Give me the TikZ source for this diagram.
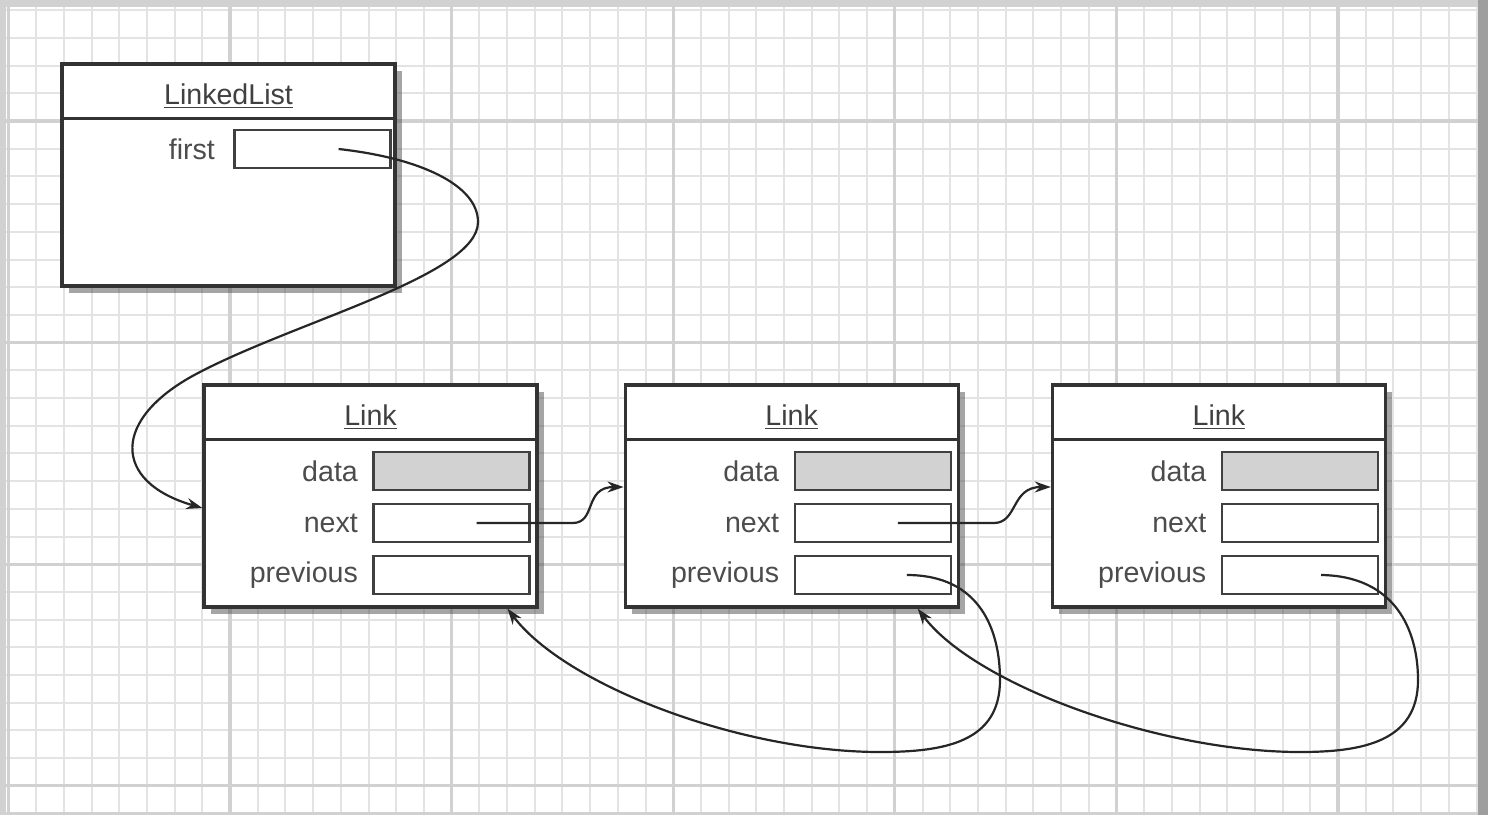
\documentclass[tikz,border=0pt]{standalone}
\usepackage{fontspec}
\setmainfont{Liberation Sans}
\usetikzlibrary{arrows.meta,positioning,shadows,calc}

\begin{document}
\begin{tikzpicture}[
    x=0.5pt, y=-0.5pt,
    record/.style={draw=black!80, line width=1.6pt, fill=white, minimum width=166.5pt, minimum height=111pt, inner sep=0pt, drop shadow={shadow xshift=3.5pt, shadow yshift=-3.5pt, opacity=0.5, fill=black!70}},
    field/.style={draw=black!75, line width=1.3pt, fill=white, minimum width=78pt, minimum height=19pt, inner sep=0pt},
    datafield/.style={field, fill=gray!35},
    title/.style={font=\fontsize{14.3}{17}\selectfont, text=black!75},
    fieldname/.style={font=\fontsize{14.3}{17}\selectfont, text=black!70, anchor=east, inner sep=0pt},
    sepline/.style={draw=black!80, line width=1.4pt},
    pointer/.style={-{Stealth[length=8pt, width=5.5pt]}, line width=1.1pt, draw=black!85},
    gridfine/.style={draw=black!11, line width=1pt},
    gridmajor/.style={draw=black!18, line width=1.6pt}
]
    \useasboundingbox (0,0) rectangle (1488,815);

    % Paper and grid
    \fill[black!18] (0,0) rectangle (1488,815);
    \fill[black!38] (1478,0) rectangle (1488,815);
    \fill[white] (6,7) rectangle (1478,812);
    \foreach \k in {-8,...,45} \draw[gridfine] ({230+27.7*\k},7) -- ({230+27.7*\k},812);
    \foreach \k in {-4,...,24} \draw[gridfine] (6,{121+27.7*\k}) -- (1478,{121+27.7*\k});
    \foreach \k in {-1,...,5} \draw[gridmajor] ({230+221.6*\k},7) -- ({230+221.6*\k},812);
    \foreach \k in {0,...,3} \draw[gridmajor] (6,{121+221.6*\k}) -- (1478,{121+221.6*\k});

    % LinkedList
    \node[record] (linked_list) at (228.5,175) {};
    \draw[sepline] ([yshift=-28pt]linked_list.north west) -- ([yshift=-28pt]linked_list.north east);
    \node[title] (linked_list_title) at ([yshift=-17pt]linked_list.north) {\underline{LinkedList}};
    \node[field] (first_field) at ($(linked_list.east)+(-42pt,13pt)$) {};
    \node[fieldname] (first_label) at ([xshift=-9pt]first_field.west) {first};

    % Links
    \node[record] (link1) at (370.5,496) {};
    \node[record, right=42.5pt of link1] (link2) {};
    \node[record, right=45.5pt of link2] (link3) {};

    \draw[sepline] ([yshift=-28pt]link1.north west) -- ([yshift=-28pt]link1.north east);
    \draw[sepline] ([yshift=-28pt]link2.north west) -- ([yshift=-28pt]link2.north east);
    \draw[sepline] ([yshift=-28pt]link3.north west) -- ([yshift=-28pt]link3.north east);

    \node[title] (link1_title) at ([yshift=-17pt]link1.north) {\underline{Link}};
    \node[title] (link2_title) at ([yshift=-17pt]link2.north) {\underline{Link}};
    \node[title] (link3_title) at ([yshift=-17pt]link3.north) {\underline{Link}};

    % Fields of link 1
    \node[datafield] (link1_data) at ($(link1.east)+(-43.5pt,12.5pt)$) {};
    \node[field] (link1_next) at ($(link1.east)+(-43.5pt,-13.5pt)$) {};
    \node[field] (link1_prev) at ($(link1.east)+(-43.5pt,-39.5pt)$) {};
    \node[fieldname] (link1_data_label) at ([xshift=-7pt]link1_data.west) {data};
    \node[fieldname] (link1_next_label) at ([xshift=-7pt]link1_next.west) {next};
    \node[fieldname] (link1_prev_label) at ([xshift=-7pt]link1_prev.west) {previous};

    % Fields of link 2
    \node[datafield] (link2_data) at ($(link2.east)+(-43.5pt,12.5pt)$) {};
    \node[field] (link2_next) at ($(link2.east)+(-43.5pt,-13.5pt)$) {};
    \node[field] (link2_prev) at ($(link2.east)+(-43.5pt,-39.5pt)$) {};
    \node[fieldname] (link2_data_label) at ([xshift=-7pt]link2_data.west) {data};
    \node[fieldname] (link2_next_label) at ([xshift=-7pt]link2_next.west) {next};
    \node[fieldname] (link2_prev_label) at ([xshift=-7pt]link2_prev.west) {previous};

    % Fields of link 3
    \node[datafield] (link3_data) at ($(link3.east)+(-43.5pt,12.5pt)$) {};
    \node[field] (link3_next) at ($(link3.east)+(-43.5pt,-13.5pt)$) {};
    \node[field] (link3_prev) at ($(link3.east)+(-43.5pt,-39.5pt)$) {};
    \node[fieldname] (link3_data_label) at ([xshift=-7pt]link3_data.west) {data};
    \node[fieldname] (link3_next_label) at ([xshift=-7pt]link3_next.west) {next};
    \node[fieldname] (link3_prev_label) at ([xshift=-7pt]link3_prev.west) {previous};

    % Pointers
    \draw[pointer] ([xshift=13pt]first_field.center) .. controls (420,158) and (478,185) .. (478,222)
        .. controls (478,275) and (300,320) .. (200,372)
        .. controls (110,418) and (112,482) .. ([yshift=-6pt]link1.west);

    \draw[pointer] ([xshift=12.5pt]link1_next.center) -- ++(48pt,0pt)
        .. controls +(12pt,0pt) and +(-20pt,0pt) .. ([yshift=4.5pt]link2.west);
    \draw[pointer] ([xshift=12.5pt]link2_next.center) -- ++(48pt,0pt)
        .. controls +(12pt,0pt) and +(-20pt,0pt) .. ([yshift=4.5pt]link3.west);

    \draw[pointer] ([xshift=17pt]link2_prev.center) .. controls (980,575) and (1000,630) .. (1000,680)
        .. controls (1000,742) and (945,752) .. (880,752)
        .. controls (740,752) and (565,685) .. ([xshift=68.5pt]link1.south);
    \draw[pointer] ([xshift=10.5pt]link3_prev.center) .. controls (1395,576) and (1418,630) .. (1418,680)
        .. controls (1418,742) and (1362,752) .. (1300,752)
        .. controls (1160,752) and (975,685) .. ([xshift=63pt]link2.south);

\end{tikzpicture}
\end{document}
